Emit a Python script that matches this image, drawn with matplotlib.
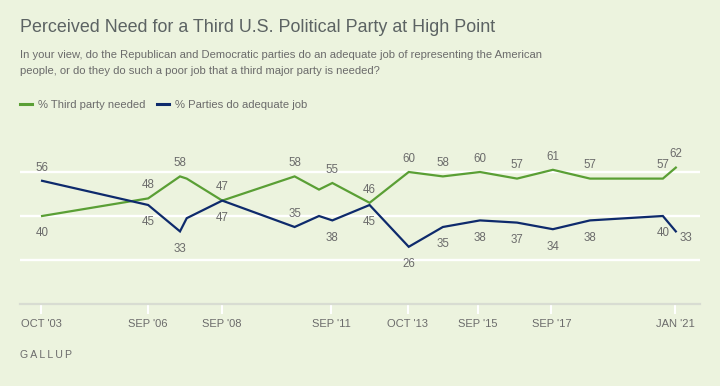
import pandas as pd
import matplotlib
matplotlib.use("Agg")
import matplotlib.pyplot as plt
from matplotlib import font_manager

# fechas de cada encuesta y porcentajes
fechas = ['2003-10-10', '2006-09-01', '2007-07-15', '2007-09-20', '2008-09-08',
          '2010-08-30', '2011-04-30', '2011-09-10', '2012-09-15', '2013-10-10',
          '2014-09-15', '2015-09-20', '2016-09-23', '2017-09-15', '2018-09-20',
          '2020-09-15', '2021-01-22']
tercer_partido = [40, 48, 58, 57, 47, 58, 52, 55, 46, 60, 58, 60, 57, 61, 57, 57, 62]
partidos_bien = [56, 45, 33, 39, 47, 35, 40, 38, 45, 26, 35, 38, 37, 34, 38, 40, 33]

# etiquetas del eje x
ticks_fechas = ['2003-10-01', '2006-09-01', '2008-09-01', '2011-09-01',
                '2013-10-01', '2015-09-01', '2017-09-01', '2021-01-15']
ticks_texto = ["OCT '03", "SEP '06", "SEP '08", "SEP '11",
               "OCT '13", "SEP '15", "SEP '17", "JAN '21"]

# donde va cada etiqueta de dato (a = arriba, b = abajo, '' = sin etiqueta)
pos_verde = ['b', 'a', 'a', '', 'a', 'a', '', 'a', 'a', 'a', 'a', 'a', 'a', 'a', 'a', 'a', 'a']
pos_azul = ['a', 'b', 'b', '', 'b', 'a', '', 'b', 'b', 'b', 'b', 'b', 'b', 'b', 'b', 'b', 'br']

nombres = {f.name for f in font_manager.fontManager.ttflist}
angosta = 'Liberation Sans Narrow' if 'Liberation Sans Narrow' in nombres else 'Liberation Sans'
normal = 'Liberation Sans'

fondo = '#ecf3de'
verde = '#5a9f35'
azul = '#0e2a6c'
gris = '#6b6b6b'

x = pd.to_datetime(fechas)

fig = plt.figure(figsize=(7.2, 3.86), dpi=100, facecolor=fondo)
ax = fig.add_axes([20/720, 82/386, 680/720, 154/386])
ax.set_facecolor(fondo)

l1, = ax.plot(x, tercer_partido, color=verde, lw=1.6, solid_joinstyle='miter')
l2, = ax.plot(x, partidos_bien, color=azul, lw=1.6, solid_joinstyle='miter')

#Etiquetas de datos.
for serie, pos in ((tercer_partido, pos_verde), (partidos_bien, pos_azul)):
    for xi, v, p in zip(x, serie, pos):
        if p == '':
            continue
        if p == 'a':
            off = (0, 9.5)
        elif p == 'b':
            off = (0, -12.5)
        else:
            off = (7, -5)
        ax.annotate(str(v), (xi, v), xytext=off, textcoords='offset points',
                    ha='center', va='center', fontsize=8.3, color=gris, family=normal)

ax.set_ylim(0, 70)
ax.set_xlim(pd.Timestamp('2003-03-04'), pd.Timestamp('2021-09-20'))
ax.set_yticks([20, 40, 60])
ax.yaxis.grid(True, color='white', lw=1.7)
ax.set_axisbelow(True)
ax.tick_params(axis='y', left=False, labelleft=False)

ax.set_xticks(pd.to_datetime(ticks_fechas))
ax.set_xticklabels(ticks_texto, fontsize=8, color=gris, family=normal)
ax.tick_params(axis='x', direction='out', length=7, width=1.5, color='white', pad=4)

for s in ['left', 'right', 'top']:
    ax.spines[s].set_visible(False)
ax.spines['bottom'].set_color('#d8dcd2')
ax.spines['bottom'].set_linewidth(1.6)

#Textos de cabecera.
fig.text(20/720, 1 - 28/386, 'Perceived Need for a Third U.S. Political Party at High Point',
         fontsize=12.9, color='#5c6363', family=angosta, va='center', ha='left')
fig.text(20/720, 1 - 55/386,
         'In your view, do the Republican and Democratic parties do an adequate job of representing the American',
         fontsize=8.1, color=gris, family=angosta, va='center', ha='left')
fig.text(20/720, 1 - 71/386,
         'people, or do they do such a poor job that a third major party is needed?',
         fontsize=8.1, color=gris, family=angosta, va='center', ha='left')

leg = fig.legend([l1, l2], ['% Third party needed', '% Parties do adequate job'],
                 loc='center left', bbox_to_anchor=(20/720, 1 - 105/386), ncol=2,
                 frameon=False, handlelength=1.1, handletextpad=0.5, columnspacing=1.0,
                 borderaxespad=0, borderpad=0, prop={'family': angosta, 'size': 8.1})
for t in leg.get_texts():
    t.set_color(gris)
for h in leg.legend_handles:
    h.set_linewidth(2.2)

fig.text(20/720, 1 - 355/386, '\u2009'.join('GALLUP'), fontsize=7.6, color=gris,
         family=[normal, 'DejaVu Sans'], va='center', ha='left')

fig.savefig('out.png', dpi=100, facecolor=fondo)
